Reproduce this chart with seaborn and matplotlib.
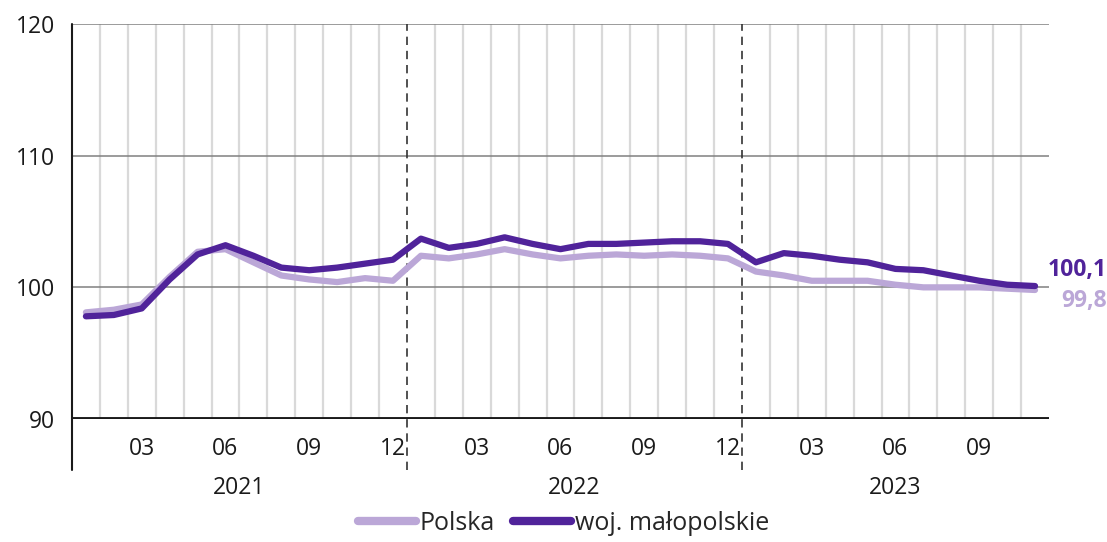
import numpy as np
import pandas as pd
import matplotlib.pyplot as plt
import matplotlib.transforms as mtransforms
import seaborn as sns

# Jan 2021 - Nov 2023, monthly
start_year = 2021
n_months = 35

polska = [98.1, 98.3, 98.7, 100.8, 102.7, 102.9, 101.9, 100.9, 100.6, 100.4, 100.7, 100.5,
          102.4, 102.2, 102.5, 102.9, 102.5, 102.2, 102.4, 102.5, 102.4, 102.5, 102.4, 102.2,
          101.2, 100.9, 100.5, 100.5, 100.5, 100.2, 100.0, 100.0, 100.0, 99.9, 99.8]
malopolskie = [97.8, 97.9, 98.4, 100.6, 102.5, 103.2, 102.4, 101.5, 101.3, 101.5, 101.8, 102.1,
               103.7, 103.0, 103.3, 103.8, 103.3, 102.9, 103.3, 103.3, 103.4, 103.5, 103.5, 103.3,
               101.9, 102.6, 102.4, 102.1, 101.9, 101.4, 101.3, 100.9, 100.5, 100.2, 100.1]
series_names = ['Polska', 'woj. małopolskie']
colors = {'Polska': '#bba7d7', 'woj. małopolskie': '#50239a'}
last_labels = ['99,8', '100,1']

idx = np.arange(n_months)
month_num = idx % 12 + 1
year_of = start_year + idx // 12

df = pd.DataFrame({
    'idx': np.concatenate([idx, idx]),
    'value': polska + malopolskie,
    'series': [series_names[0]] * n_months + [series_names[1]] * n_months,
})

sns.set_style('white')
plt.rcParams['font.family'] = ['Open Sans', 'DejaVu Sans']

fig = plt.figure(figsize=(11.07, 5.42), dpi=100)
ax = fig.add_axes([0.065, 0.2269, 0.8826, 0.7288])

# vertical month grid between bands
for k in range(n_months - 1):
    if month_num[k] == 12:
        continue
    ax.axvline(k + 0.5, color='#d9d9d9', lw=1.6, zorder=0)

# horizontal grid
for yv in [100, 110, 120]:
    ax.axhline(yv, color='#808080', lw=1.1, zorder=1)
ax.axhline(90, color='#1a1a1a', lw=2.8, zorder=3)

sns.lineplot(data=df, x='idx', y='value', hue='series', hue_order=series_names,
             palette=colors, lw=4.5, ax=ax, zorder=4, solid_capstyle='round')

ax.set_xlim(-0.5, n_months - 0.5)
ax.set_ylim(90, 120)
for s in ax.spines.values():
    s.set_visible(False)

# left spine and year separators extend below the axis
ext = 86.1
ax.plot([-0.5, -0.5], [ext, 120], color='#1a1a1a', lw=1.5, clip_on=False, zorder=5)
for k in range(n_months - 1):
    if month_num[k] == 12:
        ax.plot([k + 0.5, k + 0.5], [ext, 120], color='#333333', lw=1.2,
                ls=(0, (5, 3.5)), clip_on=False, zorder=2)

ticks = idx[month_num % 3 == 0]
ax.set_xticks(ticks)
ax.set_xticklabels(['%02d' % m for m in month_num[ticks]])
ax.set_yticks([90, 100, 110, 120])
ax.tick_params(axis='both', length=0, labelsize=16.5, colors='#1a1a1a')
ax.tick_params(axis='x', pad=13)
ax.tick_params(axis='y', pad=12)
ax.set_xlabel('')
ax.set_ylabel('')

trans = mtransforms.blended_transform_factory(ax.transData, ax.transAxes)
for yr in np.unique(year_of):
    xs = idx[year_of == yr]
    ax.text(xs.mean(), -0.175, str(yr), transform=trans, ha='center', va='center',
            fontsize=16.5, color='#1a1a1a')

# end value labels
fig.text(0.9995, 1 - 270 / 542, last_labels[1], ha='right', va='center', fontsize=16.5,
         fontweight='bold', color=colors[series_names[1]])
fig.text(0.9995, 1 - 301 / 542, last_labels[0], ha='right', va='center', fontsize=16.5,
         fontweight='bold', color=colors[series_names[0]])

ax.get_legend().remove()
handles, labels = ax.get_legend_handles_labels()
leg = fig.legend(handles, labels, loc='lower center', bbox_to_anchor=(0.509, -0.03), ncol=2,
                 frameon=False, fontsize=18, handlelength=2.3, handletextpad=0.15,
                 columnspacing=0.75)
for line in leg.get_lines():
    line.set_linewidth(6)
    line.set_solid_capstyle('round')

fig.savefig('out.png', dpi=100)
